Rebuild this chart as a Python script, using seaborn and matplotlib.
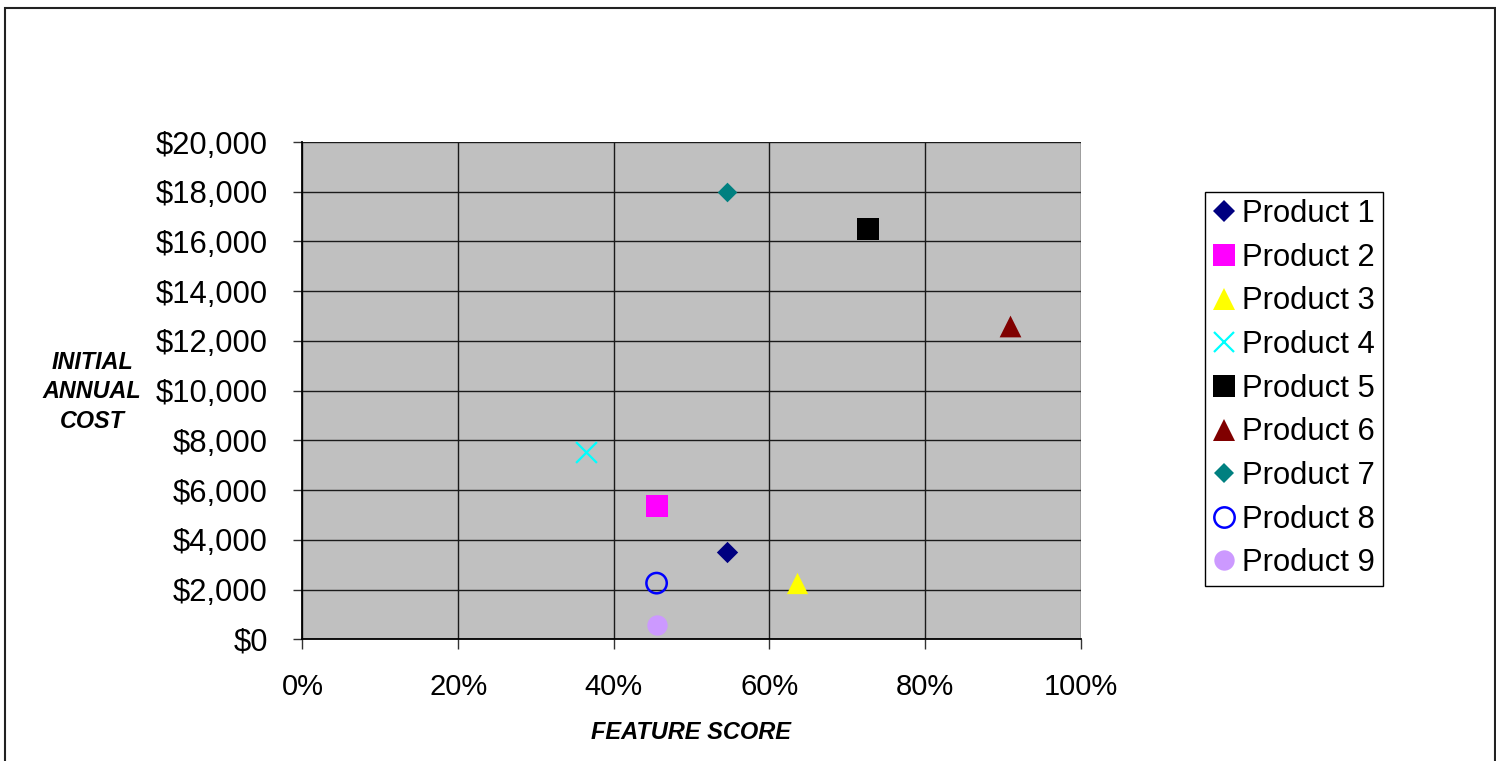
import matplotlib
matplotlib.use("Agg")
import matplotlib.pyplot as plt
import matplotlib.patches as mpatches
from matplotlib.lines import Line2D
from matplotlib.ticker import PercentFormatter, StrMethodFormatter, MultipleLocator
import seaborn as sns
import pandas as pd

# Product positioning: feature score vs. initial annual cost
products = ["Product 1", "Product 2", "Product 3", "Product 4", "Product 5",
            "Product 6", "Product 7", "Product 8", "Product 9"]
feature_score = [0.545, 0.455, 0.636, 0.364, 0.727, 0.909, 0.545, 0.455, 0.455]
annual_cost = [3500, 5350, 2260, 7540, 16500, 12600, 18000, 2260, 570]

colors = ["#000080", "#FF00FF", "#FFFF00", "#00FFFF", "#000000",
          "#800000", "#008080", "#0000FF", "#CC99FF"]
markers = ["D", "s", "^", "x", "s", "^", "D", "o", "o"]
sizes = [118, 245, 235, 225, 245, 245, 100, 215, 215]
hollow = [False, False, False, False, False, False, False, True, False]

df = pd.DataFrame({"product": products, "feature": feature_score, "cost": annual_cost})

sns.set_style("white")
plt.rcParams["font.family"] = ["Liberation Sans", "DejaVu Sans"]
plt.rcParams.update({"text.color": "black", "axes.labelcolor": "black",
                     "xtick.color": "black", "ytick.color": "black"})

fig = plt.figure(figsize=(14.96, 7.61), dpi=100)
ax = fig.add_axes([0.2022, 0.1599, 0.5202, 0.6535])
ax.set_facecolor("#C0C0C0")

handles = []
for i, row in df.iterrows():
    kw = dict(marker=markers[i], s=sizes[i], ax=ax, zorder=3, legend=False)
    if hollow[i]:
        kw.update(facecolor="none", edgecolor=colors[i], linewidth=1.8)
    elif markers[i] == "x":
        kw.update(color=colors[i], linewidth=1.6)
    else:
        kw.update(color=colors[i], edgecolor=colors[i], linewidth=0)
    sns.scatterplot(x=[row["feature"]], y=[row["cost"]], **kw)

    ms = sizes[i] ** 0.5
    if hollow[i]:
        h = Line2D([], [], linestyle="none", marker=markers[i], markersize=ms,
                   markerfacecolor="none", markeredgecolor=colors[i], markeredgewidth=1.8)
    elif markers[i] == "x":
        h = Line2D([], [], linestyle="none", marker=markers[i], markersize=ms,
                   color=colors[i], markeredgewidth=1.6)
    else:
        h = Line2D([], [], linestyle="none", marker=markers[i], markersize=ms,
                   markerfacecolor=colors[i], markeredgewidth=0)
    handles.append(h)

ax.set_xlim(0, 1)
ax.set_ylim(0, 20000)
ax.xaxis.set_major_locator(MultipleLocator(0.2))
ax.yaxis.set_major_locator(MultipleLocator(2000))
ax.xaxis.set_major_formatter(PercentFormatter(1.0, decimals=0))
ax.yaxis.set_major_formatter(StrMethodFormatter("${x:,.0f}"))

ax.grid(True, color="#1a1a1a", linewidth=1.0, zorder=1)
ax.set_axisbelow(True)
for side in ["top", "right"]:
    ax.spines[side].set_visible(False)
for side in ["left", "bottom"]:
    ax.spines[side].set_color("#000000")
    ax.spines[side].set_linewidth(1.3)

ax.tick_params(axis="y", which="major", direction="out", length=6.5, width=1,
               color="#333333", pad=18.5, labelsize=22.3, left=True)
ax.tick_params(axis="x", which="major", direction="out", length=7, width=1,
               color="#333333", pad=17, labelsize=21, bottom=True)
ax.set_xlabel("")
ax.set_ylabel("")

fig.text(0.4619, 0.038, "FEATURE SCORE", ha="center", va="center",
         fontsize=17, fontweight="bold", fontstyle="italic")
fig.text(0.0615, 0.485, "INITIAL\nANNUAL\nCOST", ha="center", va="center",
         fontsize=16.8, fontweight="bold", fontstyle="italic", linespacing=1.36)

leg = ax.legend(handles, products, loc="upper left",
                bbox_to_anchor=(1205 / 1496, 1 - 191.5 / 761),
                bbox_transform=fig.transFigure, frameon=True, fancybox=False,
                framealpha=1, edgecolor="#000000", fontsize=22.3,
                handlelength=0.7, handletextpad=0.25, labelspacing=0.44,
                borderpad=0.25, borderaxespad=0, numpoints=1)
leg.get_frame().set_linewidth(1.0)

# outer chart frame
fig.patches.append(mpatches.Rectangle((5 / 1496, -0.02), 1490 / 1496, 1.02 - 7.5 / 761,
                                      transform=fig.transFigure, fill=False,
                                      edgecolor="#222222", linewidth=1.5))

fig.savefig("out.png", dpi=100)
